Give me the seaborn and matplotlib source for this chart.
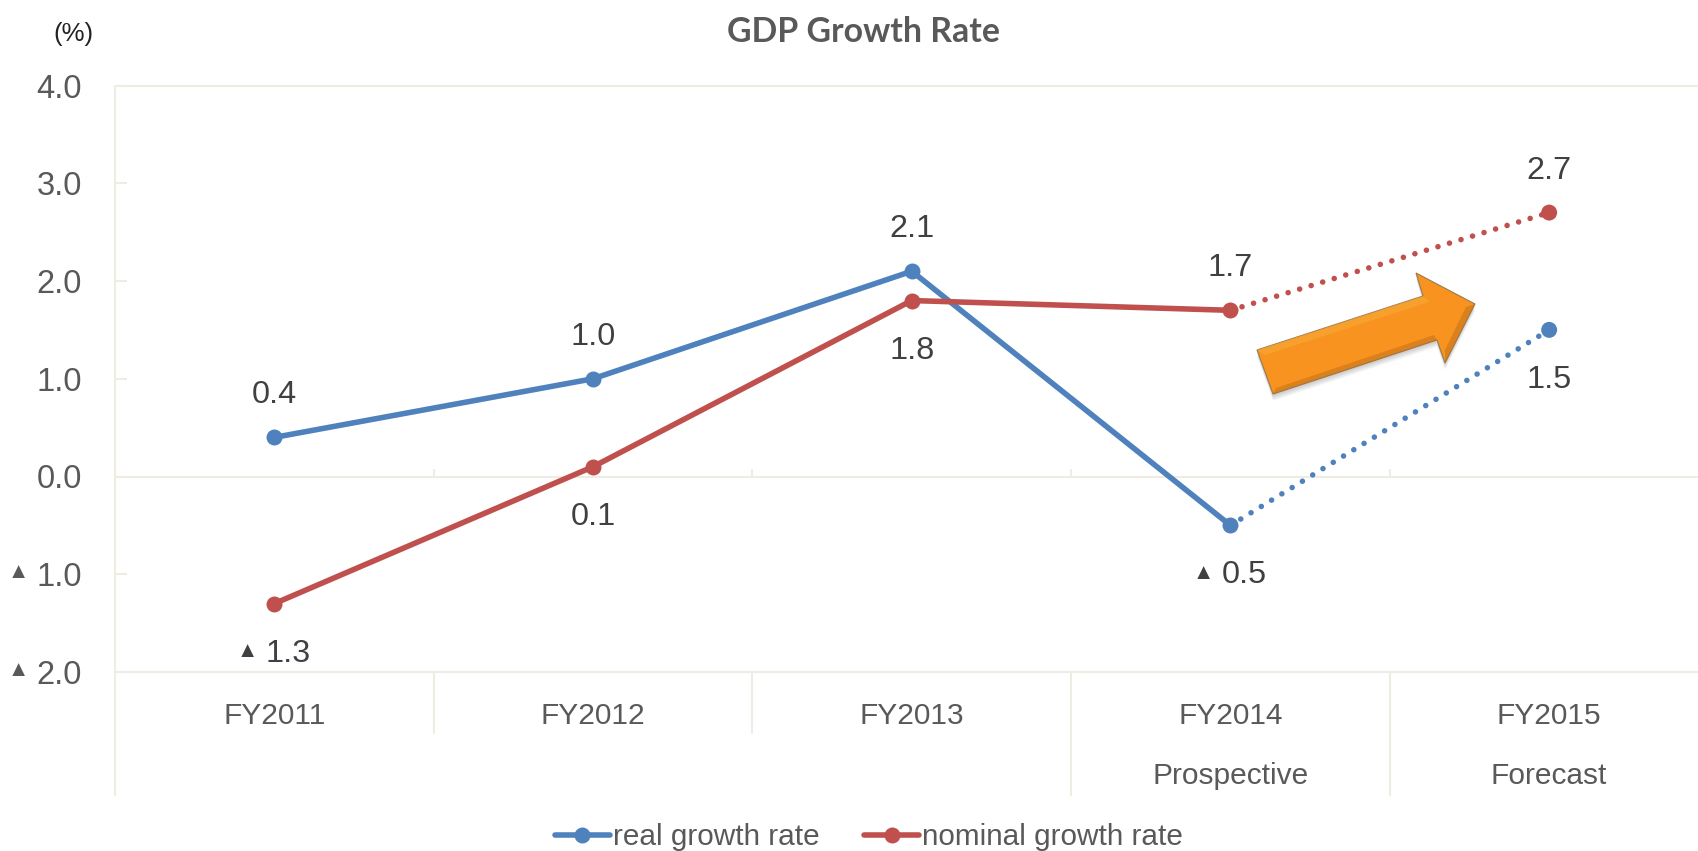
import pandas as pd
import matplotlib.pyplot as plt
from matplotlib.patches import Polygon
import seaborn as sns

years=["FY2011","FY2012","FY2013","FY2014","FY2015"]
tick_labels=["FY2011","FY2012","FY2013","FY2014\nProspective","FY2015\nForecast"]
real=[0.4,1.0,2.1,-0.5,1.5]
nominal=[-1.3,0.1,1.8,1.7,2.7]
real_pos=["up","up","up","down","down"]
nominal_pos=["down","down","down","up","up"]
yticks=[4,3,2,1,0,-1,-2]

BLUE="#4F81BD"
RED="#C0504D"
GRID="#EFEDE3"
GREY="#595959"
DARK="#404040"
TRI=["Liberation Sans","DejaVu Sans"]

sns.set_theme(style="white")
plt.rcParams["font.family"]=["Liberation Sans","DejaVu Sans"]

W,H=1698,851
fig=plt.figure(figsize=(W/100,H/100),dpi=100)
ax=fig.add_axes([115/W,1-672/H,(W-115)/W,(672-85.5)/H])

df=pd.concat([
    pd.DataFrame({"year":years,"value":real,"series":"real growth rate"}),
    pd.DataFrame({"year":years,"value":nominal,"series":"nominal growth rate"}),
])
pal={"real growth rate":BLUE,"nominal growth rate":RED}

solid=df[df["year"]!="FY2015"]
dotted=df[df["year"].isin(["FY2014","FY2015"])]

# solid part goes first so the category axis gets its order from it
sns.lineplot(data=solid,x="year",y="value",hue="series",palette=pal,ax=ax,sort=False,
             lw=4,marker="o",markersize=11.5,markeredgewidth=0,solid_capstyle="round",zorder=3)
sns.lineplot(data=dotted,x="year",y="value",hue="series",palette=pal,ax=ax,legend=False,
             sort=False,lw=4,linestyle=(0,(0.01,2.16)),dash_capstyle="round",zorder=2)
sns.scatterplot(data=dotted[dotted["year"]=="FY2015"],x="year",y="value",hue="series",palette=pal,
                ax=ax,legend=False,s=132,linewidth=0,zorder=3)

ax.set_xlim(-0.5,4.467)
ax.set_ylim(-2,4)
ax.set_xlabel("")
ax.set_ylabel("")
ax.set_xticks(range(5))
ax.set_xticklabels(tick_labels,fontsize=21.5,color=GREY,linespacing=2.47)
ax.tick_params(axis="x",length=0,pad=21.5)
ax.set_yticks(yticks)
ax.set_yticklabels([f"{abs(v):.1f}" for v in yticks],fontsize=23.5,color=GREY)
ax.tick_params(axis="y",direction="in",length=8.5,width=1.5,color=GRID,pad=24,left=True)

for s in ["top","right"]:
    ax.spines[s].set_visible(False)
for s in ["left","bottom"]:
    ax.spines[s].set_color(GRID)
    ax.spines[s].set_linewidth(1.5)
ax.axhline(0,color=GRID,lw=1.5,zorder=1)
ax.axhline(4,color=GRID,lw=1.5,zorder=1,clip_on=False)

# table style separators under the axis
tr=ax.get_xaxis_transform()
for i,low in zip([-0.5,0.5,1.5,2.5,3.5],[-0.209,-0.104,-0.104,-0.209,-0.209]):
    ax.plot([i,i],[0,low],color=GRID,lw=1.5,transform=tr,clip_on=False,zorder=1)
for i in [0.5,1.5,2.5,3.5]:
    ax.vlines(i,0,0.08,color=GRID,lw=1.5,zorder=1)

# triangles stand in for the minus sign
for v in yticks:
    if v<0:
        ax.annotate("▲",(0,v),xycoords=ax.get_yaxis_transform(),xytext=(-96.5,2),textcoords="offset pixels",
                    fontsize=15.5,color=GREY,ha="center",va="center",family=TRI)

for vals,pos in [(real,real_pos),(nominal,nominal_pos)]:
    for i,(v,p) in enumerate(zip(vals,pos)):
        off=42 if p=="up" else -50
        shift=14 if v<0 else 0
        ax.annotate(f"{abs(v):.1f}",(i,v),xytext=(shift,off),textcoords="offset pixels",
                    ha="center",va="center",fontsize=23.3,color=DARK,zorder=4)
        if v<0:
            ax.annotate("▲",(i,v),xytext=(-27,off+2),textcoords="offset pixels",
                        ha="center",va="center",fontsize=15.5,color=DARK,family=TRI,zorder=4)

fig.text(864/W,1-32/H,"GDP Growth Rate",fontsize=24.4,fontweight="bold",color=GREY,
         ha="center",va="center",family="Lato")
fig.text(73/W,1-34/H,"(%)",fontsize=18.5,color="#222222",ha="center",va="center")

# decorative arrow, pixel coordinates
def px(pts,dx=0,dy=0):
    return [(x+dx,H-(y+dy)) for x,y in pts]
arrow=[(1273,394),(1257,350),(1423,296),(1416,273),(1475,304),(1445,363),(1437,340)]
for k in range(7,0,-1):
    fig.add_artist(Polygon(px(arrow,0,k),closed=True,transform=None,fc="#000000",ec="none",alpha=0.03))
fig.add_artist(Polygon(px(arrow),closed=True,transform=None,fc="#F7931E",ec="#9A7A50",lw=0.8))
top=[(1257,350),(1423,296),(1429,302),(1265,355)]
fig.add_artist(Polygon(px(top),closed=True,transform=None,fc="#FBB040",ec="none",alpha=0.45))
low=[(1273,394),(1437,340),(1434,335),(1276,388)]
fig.add_artist(Polygon(px(low),closed=True,transform=None,fc="#B8691A",ec="none",alpha=0.45))
head=[(1475,304),(1445,363),(1445,350),(1466,307)]
fig.add_artist(Polygon(px(head),closed=True,transform=None,fc="#B8691A",ec="none",alpha=0.45))

handles,labels=ax.get_legend_handles_labels()
ax.get_legend().remove()
fig.legend(handles,labels,loc="center",bbox_to_anchor=(869/W,1-837/H),ncol=2,frameon=False,
           fontsize=21.4,labelcolor=GREY,handlelength=1.85,handletextpad=0.1,columnspacing=1.5,borderpad=0)

fig.savefig("out.png",dpi=100)
